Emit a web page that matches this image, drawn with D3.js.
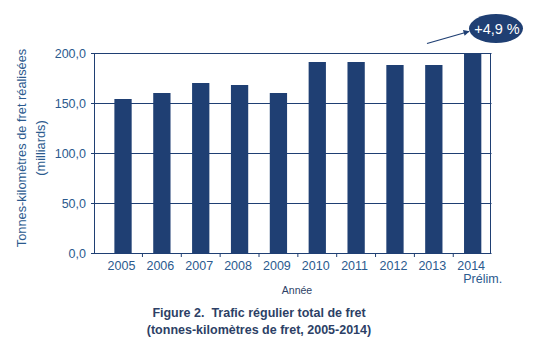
<!DOCTYPE html>
<html><head><meta charset="utf-8">
<script src="https://cdn.jsdelivr.net/npm/d3@7"></script>
<style>body{margin:0;background:#fff}svg{display:block}text{font-family:"Liberation Sans",Arial,sans-serif}</style>
</head><body>
<svg id="c" width="544" height="346"></svg>
<script>
const years = ["2005","2006","2007","2008","2009","2010","2011","2012","2013","2014"];
const values = [154,160,170,168,160,191,191,188,188,200];
const yTicks = [0,50,100,150,200];
const annotation = "+4,9 %";

const navy = "#1f3f73", txt = "#2b5a8e", dark = "#2d3f66";
const svg = d3.select("#c");
const L = 94, R = 490, T = 53, B = 253;
const y = d3.scaleLinear().domain([0,200]).range([B,T]);
const x = d3.scaleBand().domain(years).range([103.6,492.1]).paddingInner(0.555).paddingOuter(0.2775);

// gridlines
svg.append("g").selectAll("line").data(yTicks).join("line")
  .attr("x1",L-3).attr("x2",R+1.5).attr("y1",d=>y(d)+0.5).attr("y2",d=>y(d)+0.5)
  .attr("stroke",navy).attr("stroke-width",1);
// y labels
svg.append("g").selectAll("text").data(yTicks).join("text")
  .attr("x",86).attr("y",d=>y(d)+4.5).attr("text-anchor","end")
  .attr("font-size",12.5).attr("fill",txt).text(d=>d3.format(".1f")(d).replace(".",","));
// bars
svg.append("g").selectAll("rect").data(values).join("rect")
  .attr("x",(d,i)=>x(years[i])).attr("width",x.bandwidth())
  .attr("y",d=>y(d)).attr("height",d=>B-y(d)).attr("fill",navy);
// axes frame
svg.append("line").attr("x1",L+0.5).attr("x2",L+0.5).attr("y1",T).attr("y2",B+1).attr("stroke",navy);
svg.append("line").attr("x1",R+0.5).attr("x2",R+0.5).attr("y1",T).attr("y2",B+1).attr("stroke",navy);
// x ticks between bars
const step = x.step();
svg.append("g").selectAll("line").data(years.slice(1)).join("line")
  .attr("x1",d=>x(d)+x.bandwidth()/2-step/2).attr("x2",d=>x(d)+x.bandwidth()/2-step/2)
  .attr("y1",B).attr("y2",B+4).attr("stroke",navy);
// x labels
svg.append("g").selectAll("text").data(years).join("text")
  .attr("x",d=>x(d)+x.bandwidth()/2-1.5).attr("y",270).attr("text-anchor","middle")
  .attr("font-size",12.5).attr("fill",txt).text(d=>d);
svg.append("text").attr("x",x("2014")+x.bandwidth()/2+10).attr("y",283).attr("text-anchor","middle")
  .attr("font-size",12.5).attr("fill",txt).text("Prélim.");
svg.append("text").attr("x",297).attr("y",294).attr("text-anchor","middle")
  .attr("font-size",10.5).attr("fill",dark).text("Année");
// y title
const yt = svg.append("g").attr("transform","translate(0,148) rotate(-90)");
yt.append("text").attr("x",0).attr("y",26).attr("text-anchor","middle").attr("font-size",12.8).attr("fill",txt).text("Tonnes-kilomètres de fret réalisées");
yt.append("text").attr("x",0).attr("y",45).attr("text-anchor","middle").attr("font-size",12.8).attr("fill",txt).text("(milliards)");
// title
svg.append("text").attr("x",259).attr("y",317).attr("text-anchor","middle").attr("font-size",12.5).attr("font-weight","bold").attr("fill",dark)
  .attr("xml:space","preserve").text("Figure 2.  Trafic régulier total de fret");
svg.append("text").attr("x",259).attr("y",334).attr("text-anchor","middle").attr("font-size",12.5).attr("font-weight","bold").attr("fill",dark)
  .text("(tonnes-kilomètres de fret, 2005-2014)");
// annotation
const defs = svg.append("defs");
defs.append("marker").attr("id","ah").attr("viewBox","0 0 10 10").attr("refX",9).attr("refY",5)
  .attr("markerWidth",7).attr("markerHeight",6).attr("markerUnits","userSpaceOnUse").attr("orient","auto")
  .append("path").attr("d","M0,0L10,5L0,10z").attr("fill",navy);
svg.append("line").attr("x1",427).attr("y1",43.5).attr("x2",469).attr("y2",31.5)
  .attr("stroke",navy).attr("stroke-width",1.2).attr("marker-end","url(#ah)");
svg.append("ellipse").attr("cx",496).attr("cy",28.5).attr("rx",27).attr("ry",14.5).attr("fill",navy);
svg.append("text").attr("x",497).attr("y",33.5).attr("text-anchor","middle").attr("font-size",14.5).attr("fill","#fff").text(annotation);
</script>
</body></html>
